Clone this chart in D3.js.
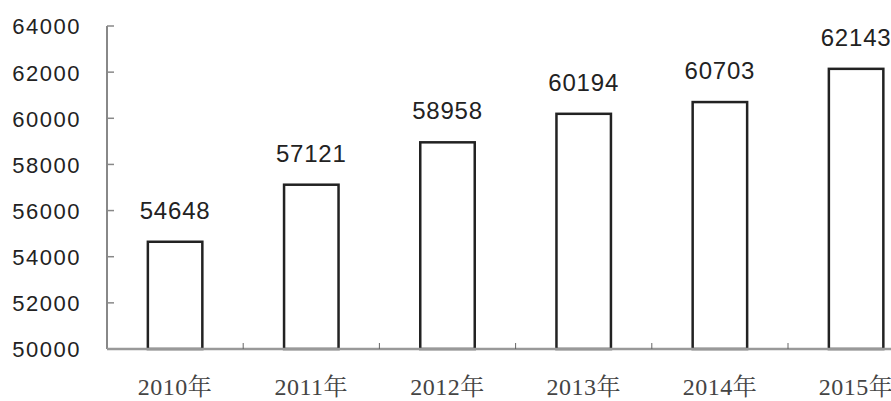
<!DOCTYPE html>
<html><head><meta charset="utf-8">
<script src="https://cdn.jsdelivr.net/npm/d3@7"></script>
<style>body{margin:0;background:#fff}svg{display:block}</style>
</head><body>
<svg id="c" width="891" height="401"></svg>
<script>
const categories = ["2010年","2011年","2012年","2013年","2014年","2015年"];
const values = [54648, 57121, 58958, 60194, 60703, 62143];
const yTicks = [50000,52000,54000,56000,58000,60000,62000,64000];

const svg = d3.select("#c");
const x0 = 107, bandW = 136.2;
const x = d3.scaleBand().domain(categories).range([x0, x0 + bandW*categories.length]).paddingInner(0.6).paddingOuter(0.3);
const y = d3.scaleLinear().domain([50000, 64000]).range([349, 26]);

// y axis labels
const yAxis = d3.axisLeft(y).tickValues(yTicks).tickSize(0).tickPadding(26).tickFormat(d3.format("d"));
const gy = svg.append("g").attr("transform", `translate(${x0},0)`).call(yAxis);
gy.select(".domain").remove();
gy.selectAll("text").attr("font-family","Liberation Sans, Arial, sans-serif").attr("font-size",22)
  .attr("letter-spacing",1.5).attr("fill","#222").attr("dy","0.36em");
svg.append("line").attr("x1",x0).attr("x2",x0).attr("y1",y(64000)).attr("y2",y(50000)).attr("stroke","#888").attr("stroke-width",2);
svg.selectAll(".ytk").data(yTicks).enter().append("line")
  .attr("x1",x0).attr("x2",x0+7).attr("y1",d=>y(d)).attr("y2",d=>y(d)).attr("stroke","#888").attr("stroke-width",1.5);

// bars
svg.selectAll(".bar").data(values).enter().append("rect")
  .attr("x",(d,i)=>x(categories[i])).attr("width",x.bandwidth())
  .attr("y",d=>y(d)).attr("height",d=>y(50000)-y(d))
  .attr("fill","#fff").attr("stroke","#222").attr("stroke-width",2.5);

// x axis line
svg.append("line").attr("x1",x0).attr("x2",891).attr("y1",y(50000)).attr("y2",y(50000)).attr("stroke","#999").attr("stroke-width",2.5);
// minor ticks at category boundaries
svg.selectAll(".xtk").data(categories.slice(1)).enter().append("line")
  .attr("x1",(d,i)=>x0+bandW*(i+1)).attr("x2",(d,i)=>x0+bandW*(i+1))
  .attr("y1",y(50000)).attr("y2",y(50000)-6).attr("stroke","#666").attr("stroke-width",1);

// value labels
svg.selectAll(".vl").data(values).enter().append("text")
  .attr("x",(d,i)=>x(categories[i])+x.bandwidth()/2).attr("y",d=>y(d)-23)
  .attr("text-anchor","middle").attr("font-family","Liberation Sans, Arial, sans-serif").attr("font-size",24)
  .attr("letter-spacing",0.8).attr("fill","#222")
  .text(d=>d);

// category labels
svg.selectAll(".cl").data(categories).enter().append("text")
  .attr("x",d=>x(d)+x.bandwidth()/2).attr("y",395)
  .attr("text-anchor","middle").attr("font-family","Liberation Serif, Noto Serif CJK SC, Noto Sans CJK SC, serif").attr("font-size",24)
  .attr("letter-spacing",0.5).attr("fill","#444")
  .text(d=>d);
</script>
</body></html>
